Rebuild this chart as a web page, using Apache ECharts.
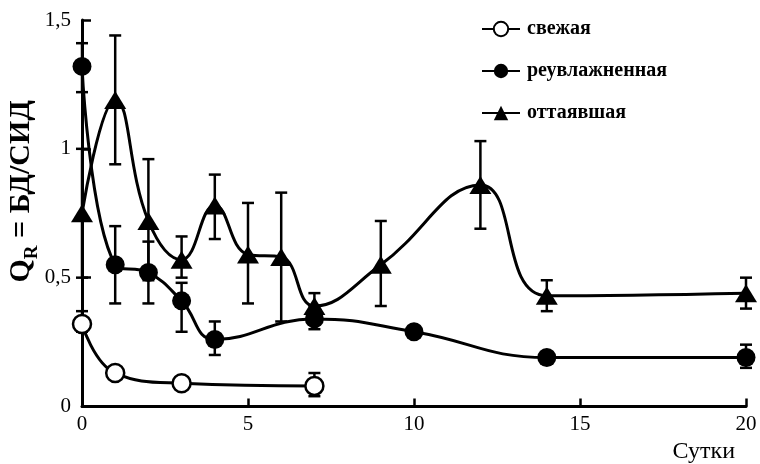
<!DOCTYPE html>
<html>
<head>
<meta charset="utf-8">
<script src="https://cdn.jsdelivr.net/npm/echarts@6/dist/echarts.min.js"></script>
<style>
  html, body { margin: 0; padding: 0; background: #fff; }
  #chart { width: 760px; height: 464px; }
</style>
</head>
<body>
<div id="chart"></div>
<script>
// Q_R ratio over days for three soil states
const freshDays = [0, 1, 3, 7];
const freshQ = [0.32, 0.13, 0.09, 0.08];
const freshErrDays = [0, 7];
const freshErrLow = [0.29, 0.04];
const freshErrHigh = [0.37, 0.13];

const rewetDays = [0, 1, 2, 3, 4, 7, 10, 14, 20];
const rewetQ = [1.32, 0.55, 0.52, 0.41, 0.26, 0.34, 0.29, 0.19, 0.19];
const rewetErrDays = [0, 1, 2, 3, 4, 7, 20];
const rewetErrLow = [1.22, 0.40, 0.40, 0.29, 0.20, 0.30, 0.15];
const rewetErrHigh = [1.41, 0.70, 0.64, 0.48, 0.33, 0.39, 0.24];

const thawDays = [0, 1, 2, 3, 4, 5, 6, 7, 9, 12, 14, 20];
const thawQ = [0.75, 1.19, 0.72, 0.57, 0.78, 0.59, 0.58, 0.39, 0.55, 0.86, 0.43, 0.44];
const thawErrLow = [0.50, 0.94, 0.49, 0.50, 0.65, 0.40, 0.33, 0.35, 0.39, 0.69, 0.37, 0.38];
const thawErrHigh = [1.00, 1.44, 0.96, 0.66, 0.90, 0.79, 0.83, 0.44, 0.72, 1.03, 0.49, 0.50];

const seriesNames = ['свежая', 'реувлажненная', 'оттаявшая'];
const xTicks = [0, 5, 10, 15, 20];
const yTicks = [0, 0.5, 1, 1.5];

const SERIF = '"Liberation Serif", "DejaVu Serif", serif';

function pairs(xs, ys) { return xs.map((x, i) => [x, ys[i]]); }
function triples(xs, lo, hi) { return xs.map((x, i) => [x, lo[i], hi[i]]); }

function renderErrorBar(params, api) {
  const x = api.value(0);
  const lo = api.coord([x, api.value(1)]);
  const hi = api.coord([x, api.value(2)]);
  const half = 6;
  const style = { stroke: '#000', lineWidth: 2.5 };
  return {
    type: 'group',
    children: [
      { type: 'line', shape: { x1: lo[0], y1: lo[1], x2: hi[0], y2: hi[1] }, style },
      { type: 'line', shape: { x1: lo[0] - half, y1: lo[1], x2: lo[0] + half, y2: lo[1] }, style },
      { type: 'line', shape: { x1: hi[0] - half, y1: hi[1], x2: hi[0] + half, y2: hi[1] }, style }
    ]
  };
}

function errorSeries(data) {
  return {
    type: 'custom',
    renderItem: renderErrorBar,
    data: data,
    encode: { x: 0, y: [1, 2] },
    z: 1,
    silent: true
  };
}

const lineBase = {
  type: 'line',
  smooth: 0.45,
  showAllSymbol: true,
  lineStyle: { color: '#000', width: 3 },
  z: 3,
  animation: false
};

const yLabels = {};
yTicks.forEach(v => { yLabels[v] = String(v).replace('.', ','); });

const chart = echarts.init(document.getElementById('chart'), null, { renderer: 'canvas' });

chart.setOption({
  animation: false,
  backgroundColor: '#fff',
  grid: { left: 82, right: 14, top: 20, bottom: 57.5, containLabel: false, outerBoundsMode: 'none' },
  legend: {
    orient: 'vertical',
    left: 476,
    top: 14,
    itemWidth: 38,
    itemHeight: 18,
    itemGap: 22,
    textStyle: { fontFamily: SERIF, fontWeight: 'bold', fontSize: 20, color: '#000', padding: [0, 0, 0, 2] },
    data: seriesNames
  },
  xAxis: {
    type: 'value',
    min: 0,
    max: 20,
    interval: 5,
    name: 'Сутки',
    nameLocation: 'end',
    nameGap: -11,
    nameMoveOverlap: false,
    nameTextStyle: { fontFamily: SERIF, fontSize: 24, color: '#000', align: 'right', verticalAlign: 'top', padding: [33, 0, 0, 0] },
    axisLine: { show: true, lineStyle: { color: '#000', width: 3 } },
    axisTick: { show: true, inside: true, length: 8, lineStyle: { color: '#000', width: 2.5 } },
    axisLabel: { fontFamily: SERIF, fontSize: 21, color: '#000', margin: 7,
      formatter: v => xTicks.includes(v) ? String(v) : '' },
    splitLine: { show: false }
  },
  yAxis: {
    type: 'value',
    min: 0,
    max: 1.5,
    interval: 0.5,
    name: '{q|Q}{r|R}{q| = БД/СИД}',
    nameLocation: 'middle',
    nameGap: 40,
    nameRotate: 90,
    nameMoveOverlap: false,
    nameTextStyle: {
      fontFamily: SERIF, fontWeight: 'bold', color: '#000', padding: [0, 0, 0, 44],
      rich: {
        q: { fontFamily: SERIF, fontWeight: 'bold', fontSize: 30, color: '#000', padding: [0, 0, 6, 0], verticalAlign: 'top' },
        r: { fontFamily: SERIF, fontWeight: 'bold', fontSize: 19, color: '#000', verticalAlign: 'bottom' }
      }
    },
    axisLine: { show: true, lineStyle: { color: '#000', width: 3 } },
    axisTick: { show: true, inside: true, length: 9, lineStyle: { color: '#000', width: 2.5 } },
    axisLabel: { fontFamily: SERIF, fontSize: 21, color: '#000', margin: 11,
      formatter: v => yLabels[v] !== undefined ? yLabels[v] : '' },
    splitLine: { show: false }
  },
  series: [
    errorSeries(triples(freshErrDays, freshErrLow, freshErrHigh)),
    errorSeries(triples(rewetErrDays, rewetErrLow, rewetErrHigh)),
    errorSeries(triples(thawDays, thawErrLow, thawErrHigh)),
    Object.assign({}, lineBase, {
      name: seriesNames[0],
      data: pairs(freshDays, freshQ),
      symbol: 'circle',
      symbolSize: 18,
      itemStyle: { color: '#fff', borderColor: '#000', borderWidth: 2.5 }
    }),
    Object.assign({}, lineBase, {
      name: seriesNames[1],
      data: pairs(rewetDays, rewetQ),
      symbol: 'circle',
      symbolSize: 19,
      itemStyle: { color: '#000', borderColor: '#000', borderWidth: 0 }
    }),
    Object.assign({}, lineBase, {
      name: seriesNames[2],
      data: pairs(thawDays, thawQ),
      symbol: 'triangle',
      symbolSize: [22, 18],
      itemStyle: { color: '#000', borderColor: '#000', borderWidth: 0 }
    })
  ]
});
</script>
</body>
</html>
